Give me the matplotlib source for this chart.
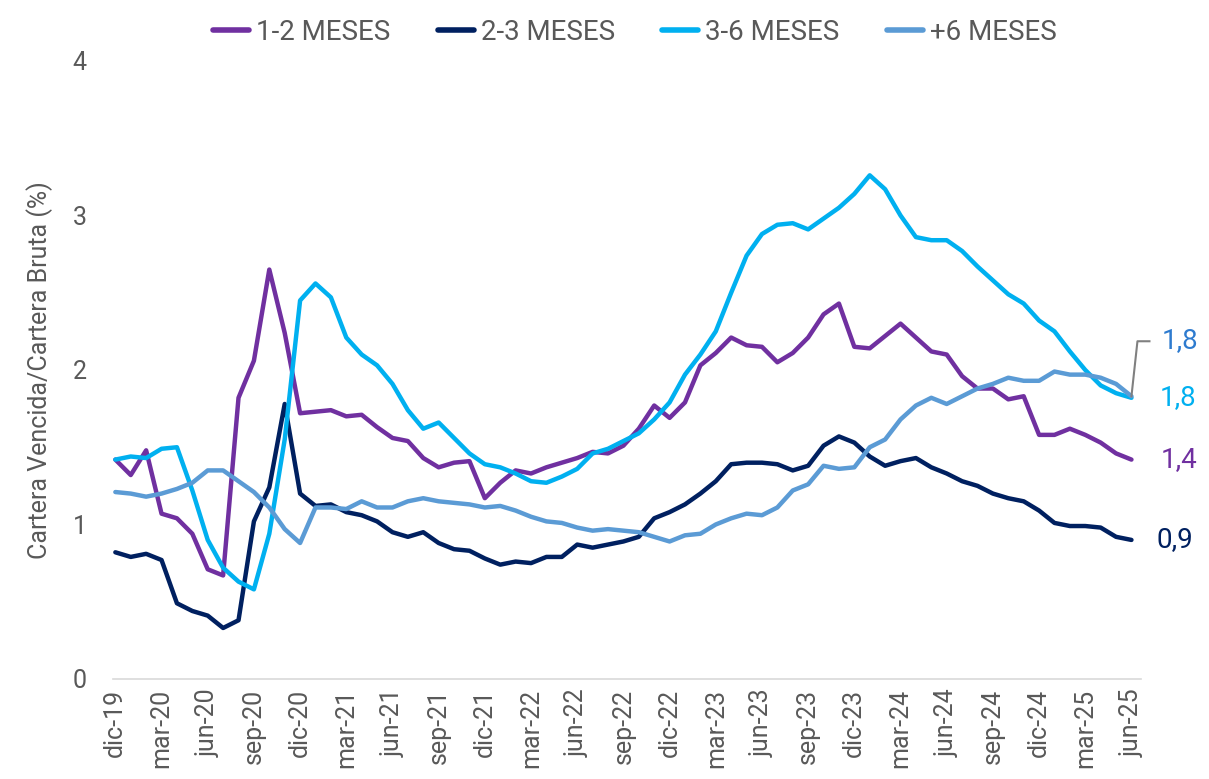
import numpy as np
import matplotlib
matplotlib.use("Agg")
import matplotlib.pyplot as plt

plt.rcParams['font.family'] = ['Roboto', 'DejaVu Sans']

# monthly series, dic-19 .. jun-25
m12 = [1.42, 1.32, 1.48, 1.07, 1.04, 0.94, 0.71, 0.67, 1.82, 2.06, 2.65, 2.24,
       1.72, 1.73, 1.74, 1.70, 1.71, 1.63, 1.56, 1.54, 1.43, 1.37, 1.40, 1.41,
       1.17, 1.27, 1.35, 1.33, 1.37, 1.40, 1.43, 1.47, 1.46, 1.51, 1.62, 1.77,
       1.69, 1.79, 2.03, 2.11, 2.21, 2.16, 2.15, 2.05, 2.11, 2.21, 2.36, 2.43,
       2.15, 2.14, 2.22, 2.30, 2.21, 2.12, 2.10, 1.96, 1.88, 1.88, 1.81, 1.83,
       1.58, 1.58, 1.62, 1.58, 1.53, 1.46, 1.42]
m23 = [0.82, 0.79, 0.81, 0.77, 0.49, 0.44, 0.41, 0.33, 0.38, 1.02, 1.24, 1.78,
       1.20, 1.12, 1.13, 1.08, 1.06, 1.02, 0.95, 0.92, 0.95, 0.88, 0.84, 0.83,
       0.78, 0.74, 0.76, 0.75, 0.79, 0.79, 0.87, 0.85, 0.87, 0.89, 0.92, 1.04,
       1.08, 1.13, 1.20, 1.28, 1.39, 1.40, 1.40, 1.39, 1.35, 1.38, 1.51, 1.57,
       1.53, 1.44, 1.38, 1.41, 1.43, 1.37, 1.33, 1.28, 1.25, 1.20, 1.17, 1.15,
       1.09, 1.01, 0.99, 0.99, 0.98, 0.92, 0.90]
m36 = [1.42, 1.44, 1.43, 1.49, 1.50, 1.22, 0.90, 0.72, 0.63, 0.58, 0.94, 1.55,
       2.45, 2.56, 2.47, 2.21, 2.10, 2.03, 1.91, 1.74, 1.62, 1.66, 1.56, 1.46,
       1.39, 1.37, 1.33, 1.28, 1.27, 1.31, 1.36, 1.46, 1.49, 1.54, 1.59, 1.68,
       1.79, 1.97, 2.10, 2.25, 2.50, 2.74, 2.88, 2.94, 2.95, 2.91, 2.98, 3.05,
       3.14, 3.26, 3.17, 3.00, 2.86, 2.84, 2.84, 2.77, 2.67, 2.58, 2.49, 2.43,
       2.32, 2.25, 2.12, 2.00, 1.90, 1.85, 1.82]
m6 = [1.21, 1.20, 1.18, 1.20, 1.23, 1.27, 1.35, 1.35, 1.28, 1.21, 1.11, 0.97,
      0.88, 1.11, 1.11, 1.10, 1.15, 1.11, 1.11, 1.15, 1.17, 1.15, 1.14, 1.13,
      1.11, 1.12, 1.09, 1.05, 1.02, 1.01, 0.98, 0.96, 0.97, 0.96, 0.95, 0.92,
      0.89, 0.93, 0.94, 1.00, 1.04, 1.07, 1.06, 1.11, 1.22, 1.26, 1.38, 1.36,
      1.37, 1.50, 1.55, 1.68, 1.77, 1.82, 1.78, 1.83, 1.88, 1.91, 1.95, 1.93,
      1.93, 1.99, 1.97, 1.97, 1.95, 1.91, 1.83]

tick_labels = ["dic-19", "mar-20", "jun-20", "sep-20", "dic-20", "mar-21",
               "jun-21", "sep-21", "dic-21", "mar-22", "jun-22", "sep-22",
               "dic-22", "mar-23", "jun-23", "sep-23", "dic-23", "mar-24",
               "jun-24", "sep-24", "dic-24", "mar-25", "jun-25"]

names = ["1-2 MESES", "2-3 MESES", "3-6 MESES", "+6 MESES"]
colors = ["#7030A0", "#002060", "#00B0F0", "#5B9BD5"]
gray = "#595959"

fig = plt.figure(figsize=(12.09, 7.79), dpi=100)
ax = fig.add_axes([0.0935, 0.1284, 0.85, 0.7933])

x = np.arange(len(m12))
for vals, name, c in zip([m12, m23, m36, m6], names, colors):
    ax.plot(x, vals, color=c, lw=3.2, label=name,
            solid_joinstyle='round', solid_capstyle='round')

ax.set_ylim(0, 4)
ax.set_xlim(-0.15, 66.6)
ax.set_yticks([0, 1, 2, 3, 4])
ax.set_yticklabels(["0", "1", "2", "3", "4"])
ax.set_xticks(np.arange(0, 67, 3))
ax.set_xticklabels(tick_labels, rotation=90)
ax.tick_params(axis='both', length=0, labelsize=18, labelcolor=gray)
ax.tick_params(axis='y', pad=19)
ax.tick_params(axis='x', pad=7)

for s in ['top', 'right', 'left']:
    ax.spines[s].set_visible(False)
ax.spines['bottom'].set_color('#D9D9D9')
ax.spines['bottom'].set_linewidth(1.2)

ax.set_ylabel("Cartera Vencida/Cartera Bruta (%)", fontsize=18, color=gray,
              labelpad=14)

# end labels
last = len(m12) - 1
lab = dict(fontsize=20, va='center', ha='left', annotation_clip=False,
           textcoords='offset points')
ax.annotate("1,4", xy=(last, m12[-1]), xytext=(21, 0), color=colors[0], **lab)
ax.annotate("0,9", xy=(last, m23[-1]), xytext=(18, 0), color=colors[1], **lab)
ax.annotate("1,8", xy=(last, m36[-1]), xytext=(20, 0), color=colors[2], **lab)
# leader line to +6 label
p0 = ax.transData.transform((last, m6[-1]))
p1 = (p0[0] + 6, p0[1] + 55)
p2 = (p0[0] + 18, p0[1] + 55)
inv = ax.transData.inverted()
pts = inv.transform([p0, p1, p2])
ax.plot(pts[:, 0], pts[:, 1], color='#808080', lw=1.5, clip_on=False)
ax.annotate("1,8", xy=(last, m6[-1]), xytext=(22, 40), color="#2E7BCF", **lab)

leg = fig.legend(loc='upper center', bbox_to_anchor=(0.525, 1.008), ncol=4,
                 frameon=False, fontsize=20, handlelength=1.3, handletextpad=0.25,
                 columnspacing=1.7)
for t in leg.get_texts():
    t.set_color(gray)
for h in leg.get_lines():
    h.set_linewidth(4)

fig.savefig("out.png", dpi=100)
